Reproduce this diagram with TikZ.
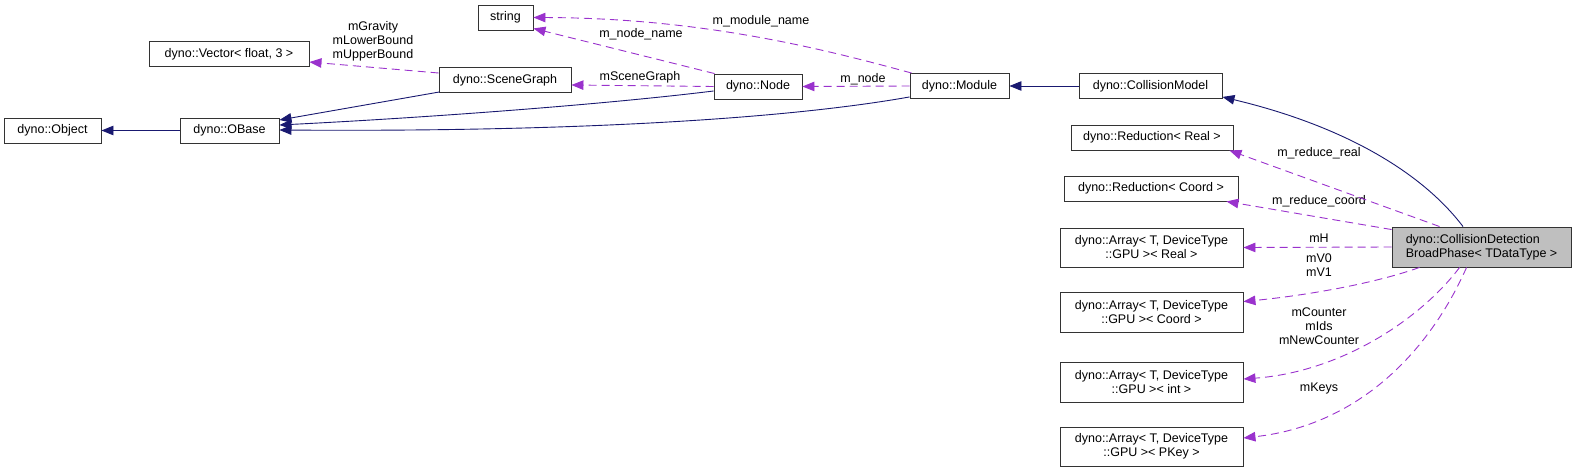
\documentclass[tikz,border=0pt]{standalone}
\usepackage{fontspec}
\setmainfont{Liberation Sans}
\usetikzlibrary{arrows.meta,calc}

\definecolor{inheritblue}{HTML}{191970}
\definecolor{usepurple}{HTML}{9A32CD}
\definecolor{boxgray}{HTML}{BFBFBF}

\tikzset{
  classbox/.style={draw=black!80, line width=0.9pt, inner sep=0pt, minimum height=25pt, align=center},
  inherit/.style={draw=inheritblue, line width=0.9pt, -{Triangle[length=12pt,width=9.5pt]}},
  uses/.style={draw=usepurple, line width=0.9pt, dash pattern=on 8pt off 5pt, -{Triangle[length=12pt,width=9.5pt,fill=usepurple]}},
  lbl/.style={inner sep=0pt, align=center}
}

\begin{document}
\begin{tikzpicture}[x=1pt, y=-1pt, font=\fontsize{12.5}{14}\selectfont]
\useasboundingbox (0,0) rectangle (1576,473);

% classes
\node[classbox, minimum width=55pt] (string) at (505.5,17.5) {string};
\node[classbox, minimum width=160pt] (vector) at (229,54) {dyno::Vector< float, 3 >};
\node[classbox, minimum width=132pt] (scenegraph) at (505,80) {dyno::SceneGraph};
\node[classbox, minimum width=88pt] (node) at (758,86.5) {dyno::Node};
\node[classbox, minimum width=99pt] (module) at (959.5,86) {dyno::Module};
\node[classbox, minimum width=143pt] (collmodel) at (1150.5,86) {dyno::CollisionModel};
\node[classbox, minimum width=97pt] (object) at (52.5,130.5) {dyno::Object};
\node[classbox, minimum width=99pt] (obase) at (229.5,130.5) {dyno::OBase};
\node[classbox, minimum width=162pt] (redreal) at (1152,137.5) {dyno::Reduction< Real >};
\node[classbox, minimum width=174pt] (redcoord) at (1151,188.5) {dyno::Reduction< Coord >};
\node[classbox, minimum width=183pt, minimum height=39pt] (arrreal) at (1151.5,247.5) {dyno::Array< T, DeviceType\\::GPU >< Real >};
\node[classbox, minimum width=183pt, minimum height=40pt] (arrcoord) at (1151.5,312) {dyno::Array< T, DeviceType\\::GPU >< Coord >};
\node[classbox, minimum width=183pt, minimum height=40pt] (arrint) at (1151.5,382) {dyno::Array< T, DeviceType\\::GPU >< int >};
\node[classbox, minimum width=183pt, minimum height=39pt] (arrpkey) at (1151.5,446.5) {dyno::Array< T, DeviceType\\::GPU >< PKey >};
\node[classbox, fill=boxgray, minimum width=179pt, minimum height=40pt, align=left] (main) at (1481.5,247) {dyno::CollisionDetection\\BroadPhase< TDataType >};

% member labels
\node[lbl] (lvector) at (373,41) {mGravity\\mLowerBound\\mUpperBound};
\node[lbl] (lscenegraph) at (640,77) {mSceneGraph};
\node[lbl] (lnodename) at (641,34) {m\_node\_name};
\node[lbl] (lmodulename) at (761,21) {m\_module\_name};
\node[lbl] (lnode) at (863,79) {m\_node};
\node[lbl] (lredreal) at (1319,153) {m\_reduce\_real};
\node[lbl] (lredcoord) at (1319,201) {m\_reduce\_coord};
\node[lbl] (lmh) at (1319,238) {mH};
\node[lbl] (lmv) at (1319,265) {mV0\\mV1};
\node[lbl] (lcounter) at (1319,326) {mCounter\\mIds\\mNewCounter};
\node[lbl] (lkeys) at (1319,388) {mKeys};

% inheritance
\draw[inherit] (obase.west) -- (object.east);
\draw[inherit] ($(scenegraph.south west)+(1,-1)$) -- ($(obase.east)+(0,-10.5)$);
\draw[inherit] ($(node.west)+(0,4.5)$) .. controls (600,105) and (420,118) .. ($(obase.east)+(0,-5.5)$);
\draw[inherit] ($(module.south west)+(0,-2)$) .. controls (780,120) and (560,132) .. ($(obase.east)+(0,-0.5)$);
\draw[inherit] (collmodel.west) -- (module.east);
\draw[inherit] ($(main.north)+(-18.5,0)$) .. controls (1420,170) and (1340,125) .. ($(collmodel.south east)+(0,-2)$);

% usage
\draw[uses] ($(scenegraph.west)+(0,-7)$) -- ($(vector.east)+(0,8)$);
\draw[uses] ($(node.west)+(0,0)$) -- ($(scenegraph.east)+(0,5)$);
\draw[uses] ($(node.north west)+(1,0)$) -- ($(string.south east)+(0,-2)$);
\draw[uses] ($(module.north west)+(2,0)$) .. controls (820,48) and (700,18) .. (string.east);
\draw[uses] (module.west) -- (node.east);
\draw[uses] ($(main.north west)+(48,0)$) -- ($(redreal.south east)+(-4,0)$);
\draw[uses] ($(main.north west)+(0,3)$) -- ($(redcoord.south east)+(-12,0)$);
\draw[uses] (main.west) -- (arrreal.east);
\draw[uses] ($(main.south west)+(28,0)$) .. controls (1370,285) and (1300,296) .. ($(arrcoord.north east)+(0,10)$);
\draw[uses] ($(main.south west)+(68,0)$) .. controls (1420,320) and (1340,372) .. ($(arrint.east)+(0,-3)$);
\draw[uses] ($(main.south west)+(75,0)$) .. controls (1430,350) and (1360,425) .. ($(arrpkey.east)+(0,-8.5)$);
\end{tikzpicture}
\end{document}
